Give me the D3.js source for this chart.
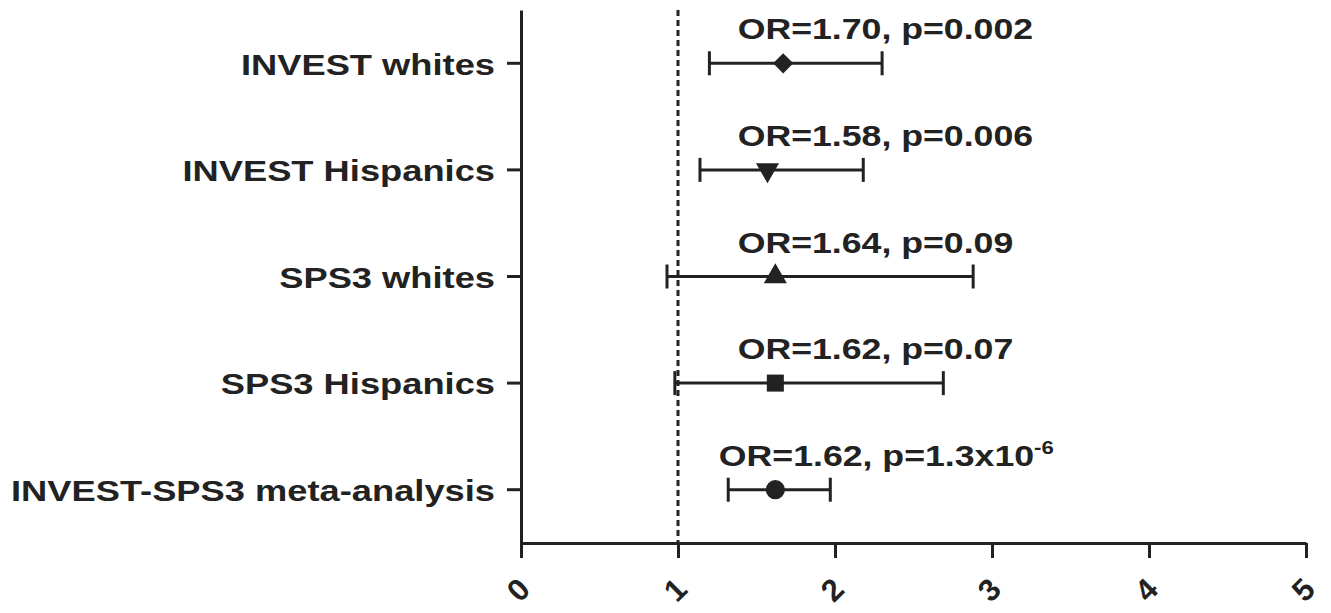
<!DOCTYPE html>
<html>
<head>
<meta charset="utf-8">
<script src="https://cdn.jsdelivr.net/npm/d3@7"></script>
<style>
  body { margin: 0; background: #fff; }
  svg { display: block; font-family: "Liberation Sans", Arial, sans-serif; }
</style>
</head>
<body>
<div id="chart"></div>
<script>
//categories (top to bottom)
const studies = [
  "INVEST whites",
  "INVEST Hispanics",
  "SPS3 whites",
  "SPS3 Hispanics",
  "INVEST-SPS3 meta-analysis",
];
//odds ratios and confidence limits, as plotted
const orValues = [1.67, 1.57, 1.62, 1.62, 1.62];
const ciLow = [1.2, 1.14, 0.93, 0.98, 1.32];
const ciHigh = [2.3, 2.18, 2.88, 2.69, 1.97];
//marker shape per row
const shapes = ["diamond", "triangleDown", "triangle", "square", "circle"];
//annotation text
const orText = ["OR=1.70", "OR=1.58", "OR=1.64", "OR=1.62", "OR=1.62"];
const pText = ["p=0.002", "p=0.006", "p=0.09", "p=0.07", "p=1.3x10"];
const pSup = ["", "", "", "", "-6"];
//where the annotation starts (OR units)
const labelStart = [1.38, 1.38, 1.38, 1.38, 1.26];
//x ticks
const xTicks = [0, 1, 2, 3, 4, 5];

const data = studies.map((s, i) => ({
  study: s,
  or: orValues[i],
  lo: ciLow[i],
  hi: ciHigh[i],
  shape: shapes[i],
  text: orText[i] + ", " + pText[i],
  sup: pSup[i],
  start: labelStart[i],
}));

//size
const width = 1331;
const height = 613;
const margin = { top: 10, right: 25, bottom: 70, left: 521 };
const ink = "#222";
const stretch = 1.23; //the source picture is wider than its text height

const x = d3
  .scaleLinear()
  .domain([0, 5])
  .range([margin.left, width - margin.right]);

const y = d3
  .scaleBand()
  .domain(studies)
  .range([margin.top, height - margin.bottom])
  .paddingInner(0);

const cy = (d) => y(d) + y.bandwidth() / 2;

const svg = d3
  .select("#chart")
  .append("svg")
  .attr("width", width)
  .attr("height", height);

//reference line at OR = 1
svg
  .append("line")
  .attr("x1", x(1))
  .attr("x2", x(1))
  .attr("y1", margin.top)
  .attr("y2", height - margin.bottom)
  .attr("stroke", ink)
  .attr("stroke-width", 3)
  .attr("stroke-dasharray", "6,4");

//x axis
svg
  .append("g")
  .attr("transform", `translate(0,${height - margin.bottom})`)
  .call(
    d3.axisBottom(x).tickValues(xTicks).tickSize(15).tickSizeOuter(0).tickFormat(d3.format("d"))
  )
  .call((g) => {
    g.attr("font-size", null);
    g.select(".domain").attr("stroke", ink).attr("stroke-width", 3);
    g.selectAll(".tick line").attr("stroke", ink).attr("stroke-width", 3);
    g.selectAll(".tick text")
      .attr("fill", ink)
      .style("font-size", "31px")
      .attr("font-weight", "bold")
      .attr("text-anchor", "middle")
      .attr("dominant-baseline", "central")
      .attr("y", 0)
      .attr("dy", 0)
      .attr("transform", "translate(-3,47) rotate(-45)");
  });

//y axis
svg
  .append("g")
  .attr("transform", `translate(${margin.left},0)`)
  .call(d3.axisLeft(y).tickSize(14).tickSizeOuter(0).tickPadding(0))
  .call((g) => {
    g.select(".domain").attr("stroke", ink).attr("stroke-width", 3);
    g.selectAll(".tick line").attr("stroke", ink).attr("stroke-width", 3);
    g.selectAll(".tick text").remove();
    g.selectAll(".tick")
      .append("text")
      .attr("fill", ink)
      .style("font-size", "30px")
      .attr("font-weight", "bold")
      .attr("text-anchor", "end")
      .attr("dominant-baseline", "central")
      .attr("transform", `translate(-26,1) scale(${stretch - 0.02},1)`)
      .text((d) => d);
  });

//error bars
const rows = svg
  .append("g")
  .selectAll("g.row")
  .data(data)
  .join("g")
  .attr("class", "row")
  .attr("transform", (d) => `translate(0,${cy(d.study)})`);

rows
  .append("line")
  .attr("x1", (d) => x(d.lo))
  .attr("x2", (d) => x(d.hi))
  .attr("stroke", ink)
  .attr("stroke-width", 3);

rows
  .selectAll("line.cap")
  .data((d) => [d.lo, d.hi])
  .join("line")
  .attr("class", "cap")
  .attr("x1", (v) => x(v))
  .attr("x2", (v) => x(v))
  .attr("y1", -12)
  .attr("y2", 12)
  .attr("stroke", ink)
  .attr("stroke-width", 3);

//markers
const symbolFor = {
  diamond: { type: d3.symbolDiamond2, size: 260, rot: 0 },
  triangleDown: { type: d3.symbolTriangle, size: 230, rot: 180 },
  triangle: { type: d3.symbolTriangle, size: 230, rot: 0 },
  square: { type: d3.symbolSquare, size: 290, rot: 0 },
  circle: { type: d3.symbolCircle, size: 290, rot: 0 },
};

rows
  .append("path")
  .attr("d", (d) => d3.symbol().type(symbolFor[d.shape].type).size(symbolFor[d.shape].size)())
  .attr("transform", (d) => `translate(${x(d.or)},0) rotate(${symbolFor[d.shape].rot})`)
  .attr("fill", ink);

//annotations
const label = rows
  .append("text")
  .attr("fill", ink)
  .style("font-size", "29px")
  .attr("font-weight", "bold")
  .attr("transform", (d) => `translate(${x(d.start)},-24) scale(${stretch},1)`);

label.append("tspan").text((d) => d.text);
label
  .filter((d) => d.sup)
  .append("tspan")
  .style("font-size", "18px")
  .attr("dy", -12)
  .text((d) => d.sup);
</script>
</body>
</html>
